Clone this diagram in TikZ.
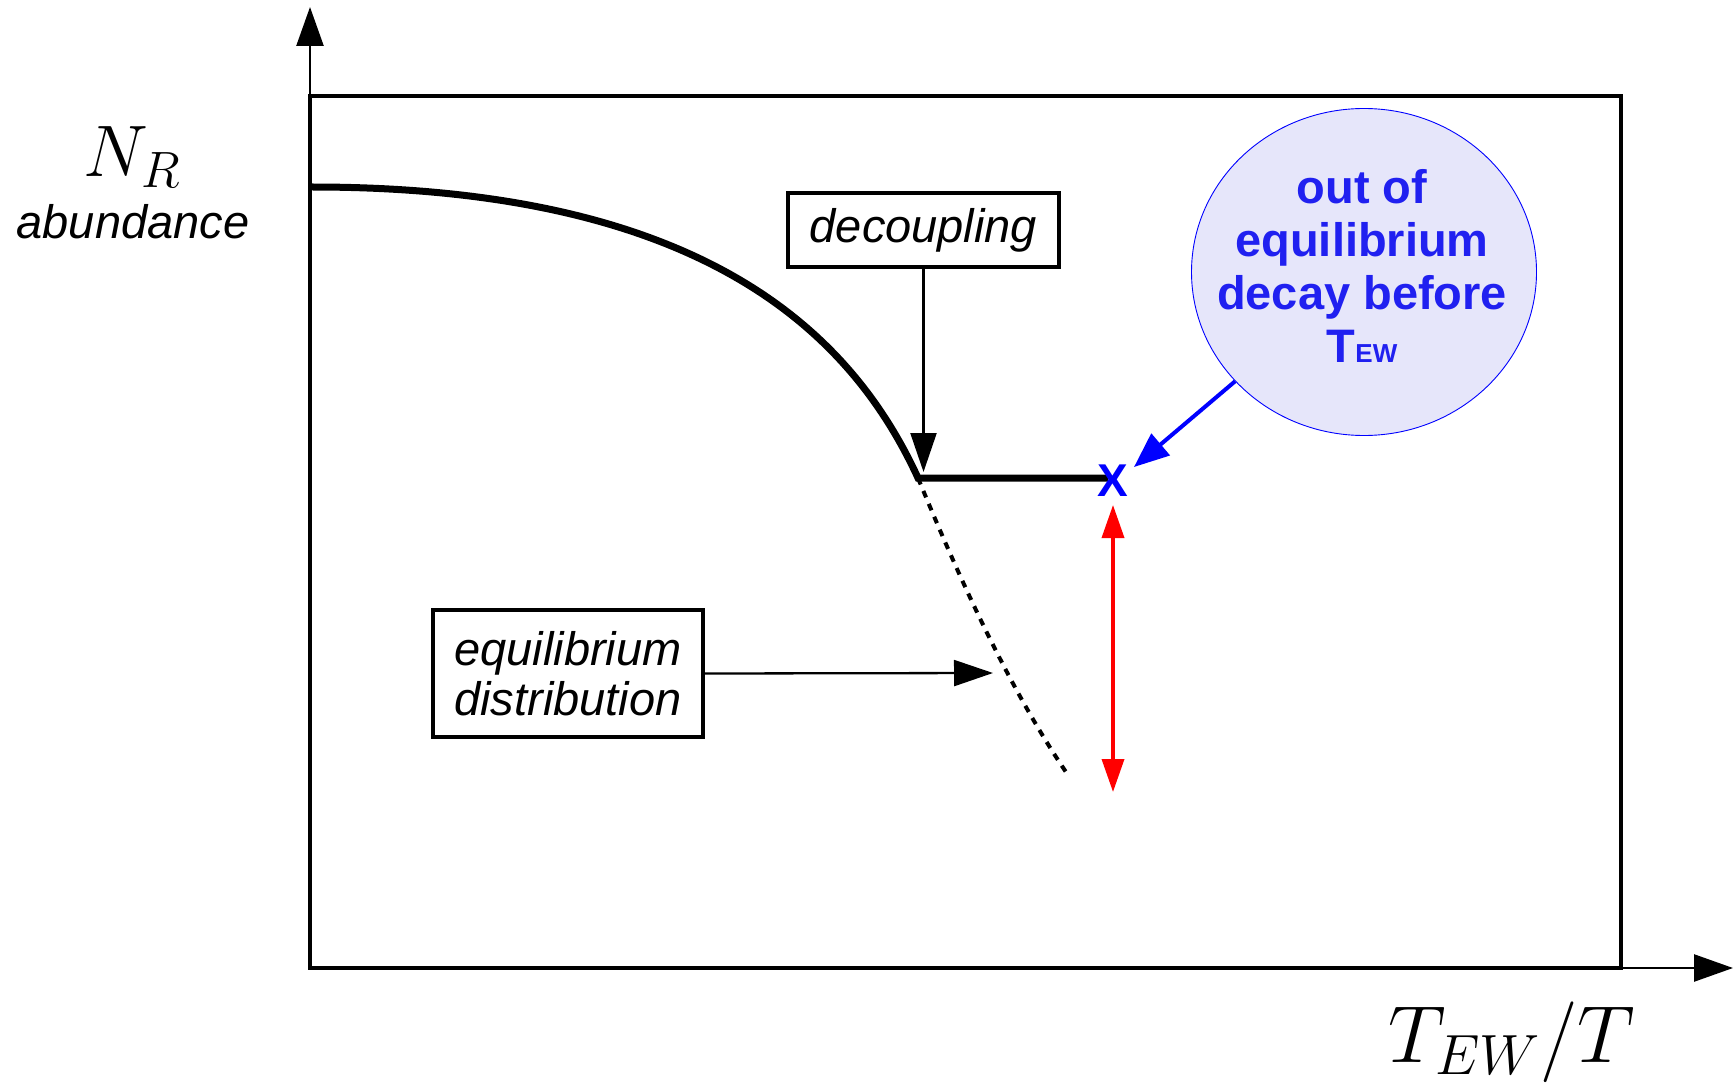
\RequirePackage{fix-cm}
\documentclass[tikz,border=0pt]{standalone}
\usepackage{fontspec}
\newfontfamily\lab{Liberation Sans}
\usetikzlibrary{arrows.meta,shapes.geometric}
\definecolor{bubfill}{RGB}{230,230,250}
\definecolor{bubtext}{RGB}{32,32,240}
\definecolor{bubline}{RGB}{0,0,255}
\begin{document}
\begin{tikzpicture}[x=1pt,y=-1pt,
  plotframe/.style={line width=3.8pt},
  axisarrow/.style={line width=2.5pt,-{Triangle[length=39pt,width=27pt]}},
  labelbox/.style={draw,line width=3.3pt,font=\lab\itshape\fontsize{47}{50}\selectfont,inner sep=0pt,align=center},
  pointer/.style={line width=2.3pt,-{Triangle[length=39pt,width=26pt]}},
  gaparrow/.style={red,line width=3.6pt,{Triangle[length=33pt,width=22pt]}-{Triangle[length=33pt,width=22pt]}},
  bubarrow/.style={bubline,line width=4pt,-{Triangle[length=35pt,width=28pt]}},
  bubble/.style={ellipse,draw=bubline,line width=0.9pt,fill=bubfill,minimum width=345pt,minimum height=327pt,inner sep=0pt},
  bubtxt/.style={text=bubtext,align=center,inner sep=0pt,font=\lab\bfseries\fontsize{47}{53}\selectfont}
]
\useasboundingbox (0,0) rectangle (1735,1083);

% coordinates
\coordinate (o) at (310,968);
\coordinate (ytop) at (310,7);
\coordinate (xend) at (1733,968);
\coordinate (c0) at (312,187);
\coordinate (dp) at (918,478);
\coordinate (plend) at (1108,478);
\coordinate (eqend) at (1068,775);
\coordinate (gt) at (1113,505);
\coordinate (gb) at (1113,792);
\coordinate (btip) at (1134,467);
\coordinate (eqtip) at (993,673);

% axes and frame
\draw[axisarrow] (o) -- (ytop);
\draw[axisarrow] (o) -- (xend);
\draw[plotframe] (310,96) rectangle (1621,968);

% axis labels
\node[font=\fontsize{73}{80}\selectfont] (nr) at (132,157) {$N_R$};
\node[font=\lab\itshape\fontsize{47}{47}\selectfont] (ab) at (133,222) {abundance};
\node[font=\fontsize{81}{88}\selectfont] (xl) at (1512,1042) {$T_{EW}/T$};

% curves
\draw[line width=4pt,dash pattern=on 7pt off 7pt] (dp) .. controls (960,580) and (1010,690) .. (eqend);
\draw[line width=7pt,line join=miter] (c0) .. controls (700,187) and (850,330) .. (dp) -- (plend);

% boxes
\node[labelbox,minimum width=271pt,minimum height=74pt] (dec) at (923.5,230) {decoupling};
\draw[pointer,shorten >=6pt] (dec.south) -- (dec.south |- dp);

\node[labelbox,minimum width=270pt,minimum height=127pt] (eq) at (568,673.5) {equilibrium\\distribution};
\draw[pointer] (eq.east) -- (eqtip);

% red gap arrow
\draw[gaparrow] (gt) -- (gb);

% bubble
\node[bubble] (bub) at (1364,272) {};
\node[bubtxt] (bubt) at (1362,266) {out of\\equilibrium\\decay before\\T{\fontsize{26}{26}\selectfont EW}};
\draw[bubarrow] (bub) -- (btip);

% X mark
\node[text=bubline,font=\lab\bfseries\fontsize{46}{46}\selectfont,inner sep=0pt] (xm) at (1113,481) {X};
\end{tikzpicture}
\end{document}
